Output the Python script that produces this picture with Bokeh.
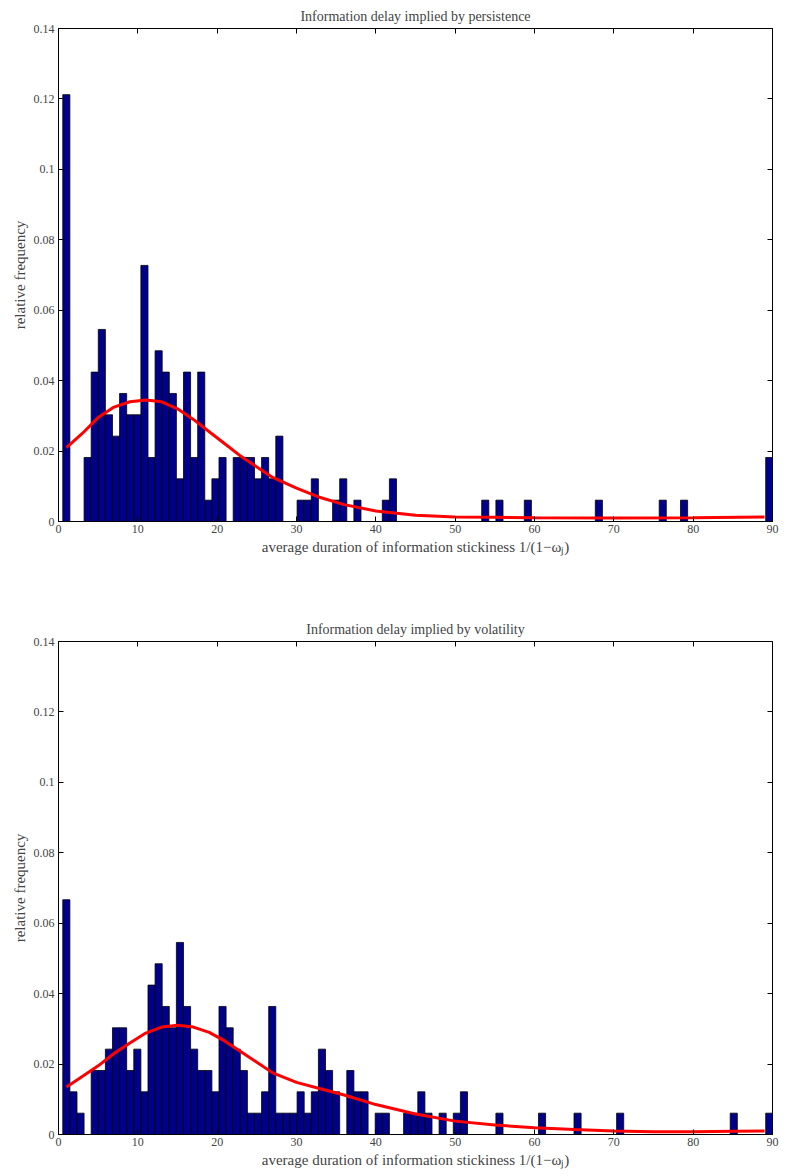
from bokeh.plotting import figure
from bokeh.layouts import column
from bokeh.models import LinearAxis, FixedTicker, Title
from bokeh.embed import file_html
from bokeh.resources import INLINE

N_OBS = 165
N_BINS = 100

# histogram: bin index -> count
pers_bins = [0, 3, 4, 5, 6, 7, 8, 9, 10, 11, 12, 13, 14, 15, 16, 17, 18, 19, 20, 21, 22,
             24, 25, 26, 27, 28, 29, 30, 33, 34, 35, 38, 39, 41, 45, 46, 59, 61, 65, 75, 84, 87, 99]
pers_counts = [20, 3, 7, 9, 5, 4, 6, 5, 5, 12, 3, 8, 7, 6, 2, 7, 3, 7, 1, 2, 3,
               3, 3, 3, 2, 3, 2, 4, 1, 1, 2, 1, 2, 1, 1, 2, 1, 1, 1, 1, 1, 1, 3]

vol_bins = [0, 1, 2, 4, 5, 6, 7, 8, 9, 10, 11, 12, 13, 14, 15, 16, 17, 18, 19, 20, 21, 22, 23,
            24, 25, 26, 27, 28, 29, 30, 31, 32, 33, 34, 35, 36, 37, 38, 40, 41, 42, 44, 45,
            48, 49, 50, 51, 53, 55, 56, 61, 67, 72, 78, 94, 99]
vol_counts = [11, 2, 1, 3, 3, 4, 5, 5, 3, 4, 2, 7, 8, 6, 5, 9, 6, 4, 3, 3, 2, 6, 5,
              4, 3, 1, 1, 2, 6, 1, 1, 1, 2, 1, 2, 4, 3, 2, 3, 2, 2, 1, 1,
              1, 1, 2, 1, 1, 1, 2, 1, 1, 1, 1, 1, 1]

# fitted density curves
pers_fit_x = [1, 3, 5, 7, 9, 11, 13, 15, 17, 19, 21, 23, 25, 27, 30, 33, 36, 40, 45, 50, 55, 60, 70, 80, 89]
pers_fit_y = [0.021, 0.025, 0.0295, 0.0325, 0.034, 0.0345, 0.034, 0.032, 0.029, 0.0255, 0.022,
              0.0185, 0.0155, 0.0125, 0.0095, 0.0068, 0.0048, 0.003, 0.0018, 0.0013, 0.0012,
              0.0011, 0.001, 0.0011, 0.0013]
vol_fit_x = [1, 3, 5, 7, 9, 11, 13, 15, 17, 19, 21, 23, 25, 27, 30, 33, 36, 40, 45, 50, 55, 60, 65, 70, 75, 80, 85, 89]
vol_fit_y = [0.0135, 0.0165, 0.0195, 0.023, 0.026, 0.0288, 0.0305, 0.031, 0.0305, 0.029, 0.0265,
             0.0235, 0.0205, 0.0175, 0.0148, 0.013, 0.0112, 0.0085, 0.0058, 0.0038, 0.0027,
             0.0019, 0.0014, 0.001, 0.0008, 0.0008, 0.0009, 0.001]

BIN_START = 0.54
BIN_W = 0.895
FONT = "Liberation Serif"
X_TICKS = list(range(0, 91, 10))
Y_TICKS = [0, 0.02, 0.04, 0.06, 0.08, 0.1, 0.12, 0.14]


def hist_plot(title, bins, counts, fx, fy, top_border, bottom_border):
    p = figure(frame_width=714, frame_height=493,
               x_range=(0, 90), y_range=(0, 0.14), output_backend="svg",
               toolbar_location=None, min_border_left=58, min_border_right=8,
               min_border_top=top_border, min_border_bottom=bottom_border)
    p.title = Title(text=title, align="center", text_font=FONT, text_font_size="14px",
                    text_font_style="normal", offset=0)
    left = [BIN_START + b * BIN_W for b in bins]
    right = [l + BIN_W for l in left]
    freq = [c / N_OBS for c in counts]
    p.quad(left=left, right=right, bottom=0, top=freq, fill_color="#00008B",
           line_color="black", line_width=0.8)
    p.line(fx, fy, line_color="#FF0000", line_width=3)

    p.grid.visible = False
    p.outline_line_color = "black"
    p.xaxis.ticker = FixedTicker(ticks=X_TICKS)
    p.yaxis.ticker = FixedTicker(ticks=Y_TICKS)
    p.yaxis.major_label_overrides = {0: "0", 0.1: "0.1"}
    p.xaxis.axis_label = "average duration of information stickiness 1/(1\u2212\u03c9\u2c7c)"
    p.yaxis.axis_label = "relative frequency"
    for ax in (p.xaxis[0], p.yaxis[0]):
        ax.major_tick_in = 5
        ax.major_tick_out = 0
        ax.minor_tick_line_color = None
        ax.axis_line_color = "black"
        ax.major_label_text_font = FONT
        ax.major_label_text_font_size = "12px"
        ax.axis_label_text_font = FONT
        ax.axis_label_text_font_size = "15px"
        ax.axis_label_text_font_style = "normal"
        ax.axis_label_standoff = 3
    p.yaxis.major_label_standoff = 4
    p.xaxis.major_label_standoff = 3
    for side, ticks in (("above", X_TICKS), ("right", Y_TICKS)):
        a = LinearAxis(ticker=FixedTicker(ticks=ticks),
                       major_label_overrides={t: "" for t in ticks},
                       major_tick_in=5, major_tick_out=0,
                       minor_tick_line_color=None, axis_line_color=None)
        p.add_layout(a, side)
    return p


p1 = hist_plot("Information delay implied by persistence", pers_bins, pers_counts,
               pers_fit_x, pers_fit_y, 28, 88)
p2 = hist_plot("Information delay implied by volatility", vol_bins, vol_counts,
               vol_fit_x, vol_fit_y, 32, 34)

layout = column(p1, p2, spacing=0)
open("out.html", "w").write(file_html(layout, INLINE))
